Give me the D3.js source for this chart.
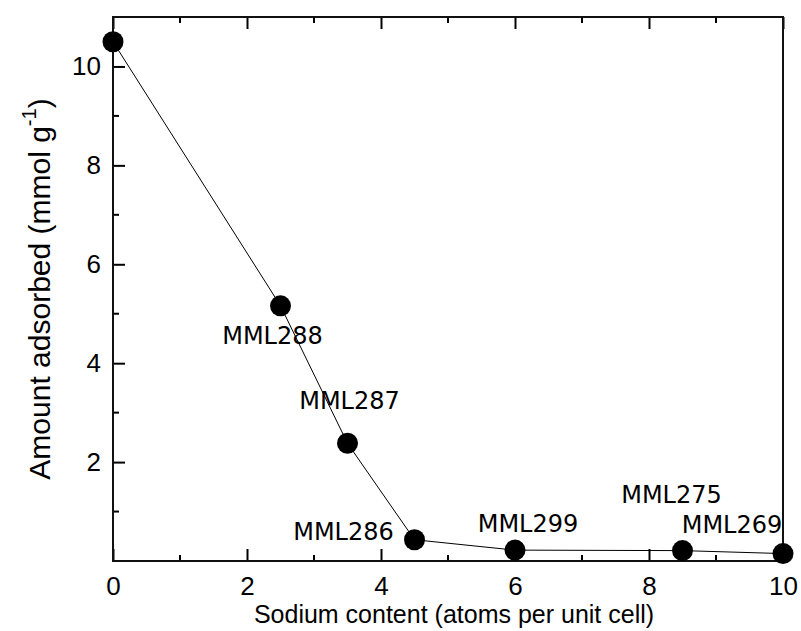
<!DOCTYPE html>
<html>
<head>
<meta charset="utf-8">
<script src="https://cdn.jsdelivr.net/npm/d3@7"></script>
<style>
  html, body { margin: 0; padding: 0; background: #fff; }
  svg { display: block; }
</style>
</head>
<body>
<svg id="chart" width="801" height="631"></svg>
<script>
// Sodium content (atoms per unit cell) and amount adsorbed (mmol/g)
const sodium = [0, 2.5, 3.5, 4.5, 6, 8.5, 10];
const adsorbed = [10.5, 5.16, 2.38, 0.43, 0.22, 0.21, 0.15];
const sampleNames = [null, "MML288", "MML287", "MML286", "MML299", "MML275", "MML269"];
// label centre offsets (px) relative to each point
const labelDx = [0, -8, 2, -71, 13, -11, -51];
const labelDy = [0, 38, -34, 0, -18, -48, -21];

const xTicks = [0, 2, 4, 6, 8, 10];
const yTicks = [2, 4, 6, 8, 10];

(function () {
const svg = d3.select("#chart");
const mLeft = 113, mRight = 783, mTop = 17, mBottom = 561;

const x = d3.scaleLinear().domain([0, 10]).range([mLeft, mRight]);
const y = d3.scaleLinear().domain([0, 11]).range([mBottom, mTop]);

const axisFont = "'Liberation Sans', Arial, sans-serif";
const labelFont = "'DejaVu Sans', Verdana, sans-serif";
const major = 12, minor = 6;

// bottom axis: inward ticks, major every 2, minor in between
const minorX = d3.range(1, 10, 2);
const gx = svg.append("g").attr("transform", `translate(0,${mBottom})`);
gx.call(d3.axisBottom(x).tickValues(xTicks).tickSizeInner(-major).tickSizeOuter(0).tickFormat(d3.format("d")))
  .call(g => g.select(".domain").remove());
gx.selectAll(".tick line").attr("stroke", "#000").attr("stroke-width", 2);
gx.selectAll(".tick text").attr("font-family", axisFont).attr("font-size", 26).attr("fill", "#000")
  .attr("y", 34).attr("dy", 0);
gx.selectAll(".minor").data(minorX).enter().append("line")
  .attr("x1", d => x(d)).attr("x2", d => x(d)).attr("y1", 0).attr("y2", -minor)
  .attr("stroke", "#000").attr("stroke-width", 2);

// top axis: ticks only
const gt = svg.append("g").attr("transform", `translate(0,${mTop})`);
gt.call(d3.axisTop(x).tickValues(xTicks).tickSizeInner(-major).tickSizeOuter(0).tickFormat(""))
  .call(g => g.select(".domain").remove());
gt.selectAll(".tick line").attr("stroke", "#000").attr("stroke-width", 2);
gt.selectAll(".minor").data(minorX).enter().append("line")
  .attr("x1", d => x(d)).attr("x2", d => x(d)).attr("y1", 0).attr("y2", minor)
  .attr("stroke", "#000").attr("stroke-width", 2);

// left axis
const minorY = d3.range(1, 11, 2);
const gy = svg.append("g").attr("transform", `translate(${mLeft},0)`);
gy.call(d3.axisLeft(y).tickValues(yTicks).tickSizeInner(-major).tickSizeOuter(0).tickFormat(d3.format("d")))
  .call(g => g.select(".domain").remove());
gy.selectAll(".tick line").attr("stroke", "#000").attr("stroke-width", 2);
gy.selectAll(".tick text").attr("font-family", axisFont).attr("font-size", 26).attr("fill", "#000").attr("x", -12);
gy.selectAll(".minor").data(minorY).enter().append("line")
  .attr("y1", d => y(d)).attr("y2", d => y(d)).attr("x1", 0).attr("x2", minor)
  .attr("stroke", "#000").attr("stroke-width", 2);

// frame
svg.append("rect")
  .attr("x", mLeft).attr("y", mTop).attr("width", mRight - mLeft).attr("height", mBottom - mTop)
  .attr("fill", "none").attr("stroke", "#111").attr("stroke-width", 2);

// axis titles
svg.append("text")
  .attr("x", 454).attr("y", 623)
  .attr("text-anchor", "middle")
  .attr("font-family", axisFont).attr("font-size", 25).attr("fill", "#000")
  .text("Sodium content (atoms per unit cell)");

const yt = svg.append("text")
  .attr("transform", "translate(50,289) rotate(-90)")
  .attr("text-anchor", "middle")
  .attr("font-family", axisFont).attr("font-size", 30).attr("fill", "#000");
yt.append("tspan").text("Amount adsorbed (mmol g");
yt.append("tspan").attr("font-size", 20).attr("dy", -14).text("-1");
yt.append("tspan").attr("dy", 14).text(")");

// connecting line
const pts = sodium.map((s, i) => ({ s, a: adsorbed[i], name: sampleNames[i], dx: labelDx[i], dy: labelDy[i] }));
svg.append("path")
  .datum(pts)
  .attr("fill", "none").attr("stroke", "#000").attr("stroke-width", 1)
  .attr("d", d3.line().x(d => x(d.s)).y(d => y(d.a)));

// markers
svg.selectAll(".pt").data(pts).enter().append("circle")
  .attr("cx", d => x(d.s)).attr("cy", d => y(d.a)).attr("r", 10.5)
  .attr("fill", "#000");

// sample labels
svg.selectAll(".lab").data(pts.filter(d => d.name)).enter()
  .append("text")
  .attr("x", d => x(d.s) + d.dx)
  .attr("y", d => y(d.a) + d.dy)
  .attr("text-anchor", "middle")
  .attr("font-family", labelFont).attr("font-size", 24).attr("fill", "#000")
  .text(d => d.name);
})();
</script>
</body>
</html>
